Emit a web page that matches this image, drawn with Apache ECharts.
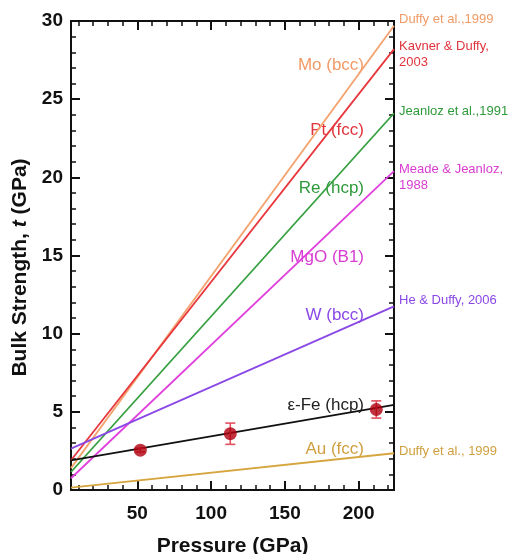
<!DOCTYPE html>
<html><head><meta charset="utf-8">
<script src="https://cdn.jsdelivr.net/npm/echarts@6/dist/echarts.min.js"></script>
<style>html,body{margin:0;padding:0;background:#fff}#c{width:514px;height:554px}</style>
</head><body><div id="c"></div>
<script>
// ---- data ----
const pressureRange = [5, 224];
const moStrength  = [1.4, 29.7];
const ptStrength  = [1.9, 28.2];
const reStrength  = [1.15, 24.1];
const mgoStrength = [0.75, 20.4];
const wStrength   = [2.65, 11.75];
const feStrength  = [1.9, 5.45];
const auStrength  = [0.15, 2.35];
const fePressure  = [52, 113, 212];
const feMeasured  = [2.55, 3.6, 5.15];
const feError     = [0.12, 0.68, 0.55];
const xMajorTicks = [50, 100, 150, 200];
const xMinorTicks = [10, 20, 30, 40, 60, 70, 80, 90, 110, 120, 130, 140, 160, 170, 180, 190, 210, 220];
const materialNames = ['Mo (bcc)', 'Pt (fcc)', 'Re (hcp)', 'MgO (B1)', 'W (bcc)', 'ε-Fe (hcp)', 'Au (fcc)'];
const citations = ['Duffy et al.,1999', 'Kavner & Duffy,\n2003', 'Jeanloz et al.,1991', 'Meade & Jeanloz,\n1988', 'He & Duffy, 2006', '', 'Duffy et al., 1999'];

// ---- styling ----
const FONT = "'Liberation Sans', Arial, sans-serif";
const lineColors = ['#F4A36E', '#E8383E', '#36A040', '#E040DC', '#8A48E6', '#111111', '#D6A53E'];
const textColors = ['#F09A66', '#E0343C', '#2E9A3A', '#D83CD0', '#8A48E6', '#222222', '#D0A040'];
const strengthSets = [moStrength, ptStrength, reStrength, mgoStrength, wStrength, feStrength, auStrength];
const materialLabelY = [65, 130, 188, 257, 315, 405, 449];
const citationY = [19, 54, 111, 177, 300, 0, 451];

const chart = echarts.init(document.getElementById('c'), null, {renderer: 'canvas'});
const G = {left: 71, top: 21, width: 323, height: 469};
const xBase = {type: 'value', min: pressureRange[0], max: pressureRange[1], splitLine: {show: false},
  axisLine: {show: true, lineStyle: {color: '#111', width: 2}}};
const yBase = {type: 'value', min: 0, max: 30, interval: 5, splitLine: {show: false}, minorSplitLine: {show: false},
  axisLine: {show: true, lineStyle: {color: '#111', width: 2}},
  axisTick: {show: true, inside: true, length: 9, lineStyle: {color: '#111', width: 2}},
  minorTick: {show: true, splitNumber: 5, length: 5, lineStyle: {color: '#111', width: 1.5}}};

const series = strengthSets.map((arr, i) => ({
  type: 'line', xAxisIndex: 0, yAxisIndex: 0, name: materialNames[i],
  data: pressureRange.map((p, k) => [p, arr[k]]),
  symbol: 'none', silent: true, lineStyle: {color: lineColors[i], width: 1.8}, z: 3
}));
series.push({
  type: 'custom', xAxisIndex: 0, yAxisIndex: 0, z: 6, silent: true,
  data: fePressure.map((p, i) => [p, feMeasured[i], feError[i]]),
  renderItem: (params, api) => {
    const x = api.value(0), y = api.value(1), e = api.value(2);
    const t = api.coord([x, y + e]), b = api.coord([x, y - e]);
    const st = {stroke: '#E2505E', lineWidth: 1.6};
    return {type: 'group', children: [
      {type: 'line', shape: {x1: t[0], y1: t[1], x2: b[0], y2: b[1]}, style: st},
      {type: 'line', shape: {x1: t[0] - 5, y1: t[1], x2: t[0] + 5, y2: t[1]}, style: st},
      {type: 'line', shape: {x1: b[0] - 5, y1: b[1], x2: b[0] + 5, y2: b[1]}, style: st}
    ]};
  }
});
series.push({
  type: 'scatter', xAxisIndex: 0, yAxisIndex: 0, z: 8, silent: true,
  data: fePressure.map((p, i) => [p, feMeasured[i]]),
  symbol: 'circle', symbolSize: 13, itemStyle: {color: '#B0000E'}
});

const graphics = [];
materialNames.forEach((n, i) => {
  graphics.push({type: 'text', x: 364, y: materialLabelY[i], silent: true,
    style: {text: n, fill: textColors[i], font: '17px ' + FONT, textAlign: 'right', textVerticalAlign: 'middle'}});
});
citations.forEach((c, i) => {
  if (!c) return;
  graphics.push({type: 'text', x: 399, y: citationY[i], silent: true,
    style: {text: c, fill: textColors[i], font: '13px ' + FONT, textAlign: 'left', textVerticalAlign: 'middle', lineHeight: 16}});
});

chart.setOption({
  animation: false,
  backgroundColor: '#fff',
  grid: Object.assign({containLabel: false, outerBoundsMode: 'none'}, G),
  xAxis: [
    Object.assign({}, xBase, {position: 'bottom', name: 'Pressure (GPa)', nameLocation: 'middle', nameGap: 46,
      nameTextStyle: {fontFamily: FONT, fontWeight: 'bold', fontSize: 21, color: '#111'},
      axisTick: {show: true, inside: true, length: 9, customValues: xMajorTicks, lineStyle: {color: '#111', width: 2}},
      axisLabel: {show: true, customValues: xMajorTicks, margin: 14, fontFamily: FONT, fontWeight: 'bold', fontSize: 19, color: '#111'}}),
    Object.assign({}, xBase, {position: 'bottom',
      axisTick: {show: true, inside: true, length: 5, customValues: xMinorTicks, lineStyle: {color: '#111', width: 1.5}},
      axisLabel: {show: false}}),
    Object.assign({}, xBase, {position: 'top',
      axisTick: {show: true, inside: true, length: 9, customValues: xMajorTicks, lineStyle: {color: '#111', width: 2}},
      axisLabel: {show: false}}),
    Object.assign({}, xBase, {position: 'top',
      axisTick: {show: true, inside: true, length: 5, customValues: xMinorTicks, lineStyle: {color: '#111', width: 1.5}},
      axisLabel: {show: false}})
  ],
  yAxis: [
    Object.assign({}, yBase, {position: 'left', name: 'Bulk Strength, {i|t} (GPa)', nameLocation: 'middle', nameGap: 40,
      nameTextStyle: {fontFamily: FONT, fontWeight: 'bold', fontSize: 21, color: '#111', padding: [0, 24, 0, 0],
        rich: {i: {fontFamily: FONT, fontWeight: 'bold', fontStyle: 'italic', fontSize: 21, color: '#111'}}},
      axisLabel: {show: true, margin: 8, fontFamily: FONT, fontWeight: 'bold', fontSize: 19, color: '#111'}}),
    Object.assign({}, yBase, {position: 'right', axisLabel: {show: false}})
  ],
  series: series,
  graphic: graphics
});
</script></body></html>
